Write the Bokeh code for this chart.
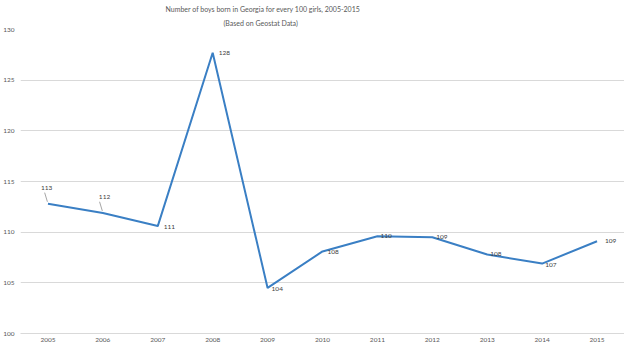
from bokeh.plotting import figure
from bokeh.models import Range1d, FixedTicker, Title, ColumnDataSource
from bokeh.core.properties import value
from bokeh.embed import file_html
from bokeh.resources import INLINE

years = [2005, 2006, 2007, 2008, 2009, 2010, 2011, 2012, 2013, 2014, 2015]
boys_per_100_girls = [112.8, 111.9, 110.6, 127.7, 104.5, 108.1, 109.6, 109.5, 107.8, 106.9, 109.1]
point_labels = ["113", "112", "111", "128", "104", "108", "110", "109", "108", "107", "109"]
y_ticks = [100, 105, 110, 115, 120, 125, 130]
title_text = "Number of boys born in Georgia for every 100 girls, 2005-2015"
subtitle_text = "(Based on Geostat Data)"

FONT = "Lato"
TXT = "#595959"
BLUE = "#3a7fc4"

# label offsets in pixels (style only)
dx = [-7, -4, 6, 6, 4, 5, 3, 4, 3, 3, 8]
dy = [-16, -16, 1, 0, 1, 1, 0, 0, 0, 1, 0]

p = figure(width=624, height=344, output_backend="svg", toolbar_location=None,
           x_range=Range1d(2004.5, 2015.5), y_range=Range1d(100, 130),
           min_border_top=28, min_border_left=0, min_border_right=0, min_border_bottom=0)
p.outline_line_color = None
p.background_fill_color = "white"
p.border_fill_color = "white"

p.title.text = title_text
p.title.text_font = FONT
p.title.text_font_size = "7px"
p.title.text_font_style = "normal"
p.title.text_color = TXT
p.title.align = "left"
p.title.offset = 145
p.title.standoff = 4
p.add_layout(Title(text=subtitle_text, text_font=FONT, text_font_size="7px",
                   text_font_style="normal", text_color=TXT, align="left",
                   offset=203, standoff=5), "above")

p.xgrid.grid_line_color = None
p.ygrid.grid_line_color = "#d9d9d9"
p.ygrid.grid_line_width = 1

for ax in (p.xaxis[0], p.yaxis[0]):
    ax.axis_line_color = None
    ax.major_tick_line_color = None
    ax.minor_tick_line_color = None
    ax.major_tick_out = 0
    ax.major_tick_in = 0
    ax.minor_tick_out = 0
    ax.minor_tick_in = 0
    ax.axis_label_standoff = 0
    ax.major_label_text_font = FONT
    ax.major_label_text_font_size = "6.5px"
    ax.major_label_text_color = TXT
p.xaxis[0].ticker = FixedTicker(ticks=years)
p.yaxis[0].ticker = FixedTicker(ticks=y_ticks)
p.xaxis[0].major_label_standoff = 4
p.yaxis[0].major_label_standoff = 6
p.xaxis[0].axis_line_color = "#d9d9d9"

src = ColumnDataSource(dict(x=years, y=boys_per_100_girls, lab=point_labels, dx=dx, dy=dy))
p.line("x", "y", source=src, line_color=BLUE, line_width=2)

p.text("x", "y", text="lab", source=src, x_offset="dx", y_offset="dy",
       text_font=value(FONT), text_font_size="6.5px", text_color="#404040",
       text_align="left", text_baseline="middle")

# leader lines for first two labels
lx0 = [years[0] - 0.01, years[1] - 0.01]
ly0 = [boys_per_100_girls[0] + 0.2, boys_per_100_girls[1] + 0.2]
lx1 = [years[0] - 0.06, years[1] - 0.06]
ly1 = [boys_per_100_girls[0] + 1.1, boys_per_100_girls[1] + 1.1]
p.segment(lx0, ly0, lx1, ly1, line_color="#a6a6a6", line_width=1)

open("out.html", "w").write(file_html(p, INLINE))
